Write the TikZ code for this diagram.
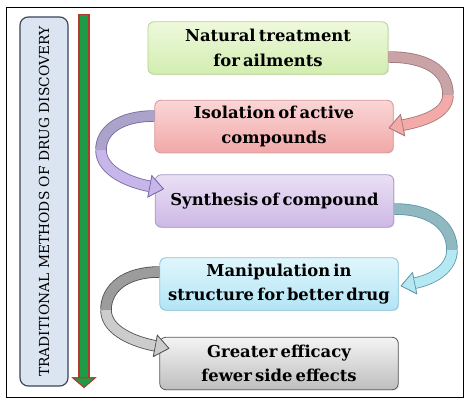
\documentclass[tikz,border=0pt]{standalone}
\usepackage{fontspec}
\setmainfont{DejaVu Serif}
\newfontfamily\boxfont[WordSpace=0.55]{DejaVu Serif}
\usepackage{tikz}
\usetikzlibrary{arrows.meta,calc,shadows}
\definecolor{panel}{HTML}{DBE5F1}
\definecolor{panelline}{HTML}{3B4456}
\definecolor{flowgreen}{HTML}{1F9A47}
\definecolor{flowline}{HTML}{B03A2E}
\definecolor{limetop}{HTML}{EEF9DC}
\definecolor{limebot}{HTML}{D2EDB0}
\definecolor{limeline}{HTML}{B5D68E}
\definecolor{rosetop}{HTML}{FAD6D6}
\definecolor{rosebot}{HTML}{F2A8A8}
\definecolor{roseline}{HTML}{D99595}
\definecolor{liltop}{HTML}{EAE0F5}
\definecolor{lilbot}{HTML}{CDB8E6}
\definecolor{lilline}{HTML}{A897C8}
\definecolor{aquatop}{HTML}{E0F6FC}
\definecolor{aquabot}{HTML}{B2E5F5}
\definecolor{aqualine}{HTML}{86C6DC}
\definecolor{greytop}{HTML}{F4F4F4}
\definecolor{greybot}{HTML}{BEBEBE}
\definecolor{greyline}{HTML}{5A5A5A}
\definecolor{roseback}{HTML}{C9A3A6}
\definecolor{rosefront}{HTML}{F5AAAA}
\definecolor{roseedge}{HTML}{A07878}
\definecolor{lilback}{HTML}{ABA3C9}
\definecolor{lilfront}{HTML}{C6B6EA}
\definecolor{liledge}{HTML}{7868A0}
\definecolor{aquaback}{HTML}{8FB8C0}
\definecolor{aquafront}{HTML}{B4E8F3}
\definecolor{aquaedge}{HTML}{6098A8}
\definecolor{greyback}{HTML}{9C9C9C}
\definecolor{greyfront}{HTML}{CCCCCC}
\definecolor{greyedge}{HTML}{505050}

\begin{document}
\begin{tikzpicture}[x=0.03cm,y=-0.03cm,
    stage/.style n args={3}{top color=#1,bottom color=#2,draw=#3,line width=0.7pt,
      rounded corners=5pt,minimum width=7.15cm,minimum height=1.57cm,align=center,
      inner sep=1pt,
      drop shadow={opacity=0.18,shadow xshift=0.9pt,shadow yshift=-0.9pt},
      font=\fontsize{14}{21}\selectfont\boxfont\bfseries},
    band/.style 2 args={preaction={draw=#2,line width=9.8pt},draw=#1,line width=8.4pt},
    bandtip/.style 2 args={band={#1}{#2},
      -{Triangle[width=19.5pt,length=12.5pt,line width=0.6pt,color=#2,fill=#1]}}]
    \useasboundingbox (0,0) rectangle (467,405);
    \fill[white] (0,0) rectangle (467,405);
    \draw[line width=0.8pt] (6,7) rectangle (463,397);
    \node[fill=panel,draw=panelline,line width=1pt,rounded corners=7pt,rotate=90,
      minimum width=11.07cm,minimum height=1.44cm,
      font=\fontsize{11.8}{13}\selectfont] (label) at (44,201.5)
      {TRADITIONAL METHODS OF DRUG DISCOVERY};
    \coordinate (flowtop) at (84,15);
    \coordinate (flowend) at (84,388);
    \draw[preaction={draw=flowline,line width=9.4pt,shorten <=-0.7pt},draw=flowgreen,line width=7.6pt,
      -{Triangle[width=21pt,length=9pt,line width=0.7pt,color=flowline,fill=flowgreen]}]
      (flowtop) -- (flowend);
    \node[stage={limetop}{limebot}{limeline},minimum width=7.2cm] (natural) at (268,48)
      {Natural treatment\\for ailments};
    \node[stage={rosetop}{rosebot}{roseline}] (isolation) at (274,126.5)
      {Isolation of active\\compounds};
    \node[stage={liltop}{lilbot}{lilline}] (synthesis) at (274.5,201)
      {Synthesis of compound};
    \node[stage={aquatop}{aquabot}{aqualine}] (manipulation) at (279,284)
      {Manipulation in\\structure for better drug};
    \node[stage={greytop}{greybot}{greyline}] (efficacy) at (279,363.5)
      {Greater efficacy\\fewer side effects};
    \coordinate (turnA) at (448,95);
    \coordinate (turnB) at (101,150);
    \coordinate (turnC) at (452,250);
    \coordinate (turnD) at (106,310);
    \draw[band={roseback}{roseedge}] ($(natural.east)+(0,9)$) .. controls +(36,0) and +(0,-26) .. (turnA);
    \draw[bandtip={rosefront}{roseedge}] (turnA) .. controls +(0,20) and +(30,-6) .. ($(isolation.east)+(-5,1.5)$);
    \draw[band={lilback}{liledge}] ($(isolation.west)+(0,-10.5)$) .. controls +(-34,0) and +(0,-20) .. (turnB);
    \draw[bandtip={lilfront}{liledge}] (turnB) .. controls +(0,22) and +(-32,-6) .. ($(synthesis.west)+(9,-12)$);
    \draw[band={aquaback}{aquaedge}] ($(synthesis.east)+(0,8)$) .. controls +(38,0) and +(0,-24) .. (turnC);
    \draw[bandtip={aquafront}{aquaedge}] (turnC) .. controls +(0,20) and +(30,-6) .. ($(manipulation.east)+(2,2)$);
    \draw[band={greyback}{greyedge}] ($(manipulation.west)+(0,-12)$) .. controls +(-34,0) and +(0,-22) .. (turnD);
    \draw[bandtip={greyfront}{greyedge}] (turnD) .. controls +(0,22) and +(-32,-6) .. ($(efficacy.west)+(10,-15)$);
  \end{tikzpicture}
\end{document}
